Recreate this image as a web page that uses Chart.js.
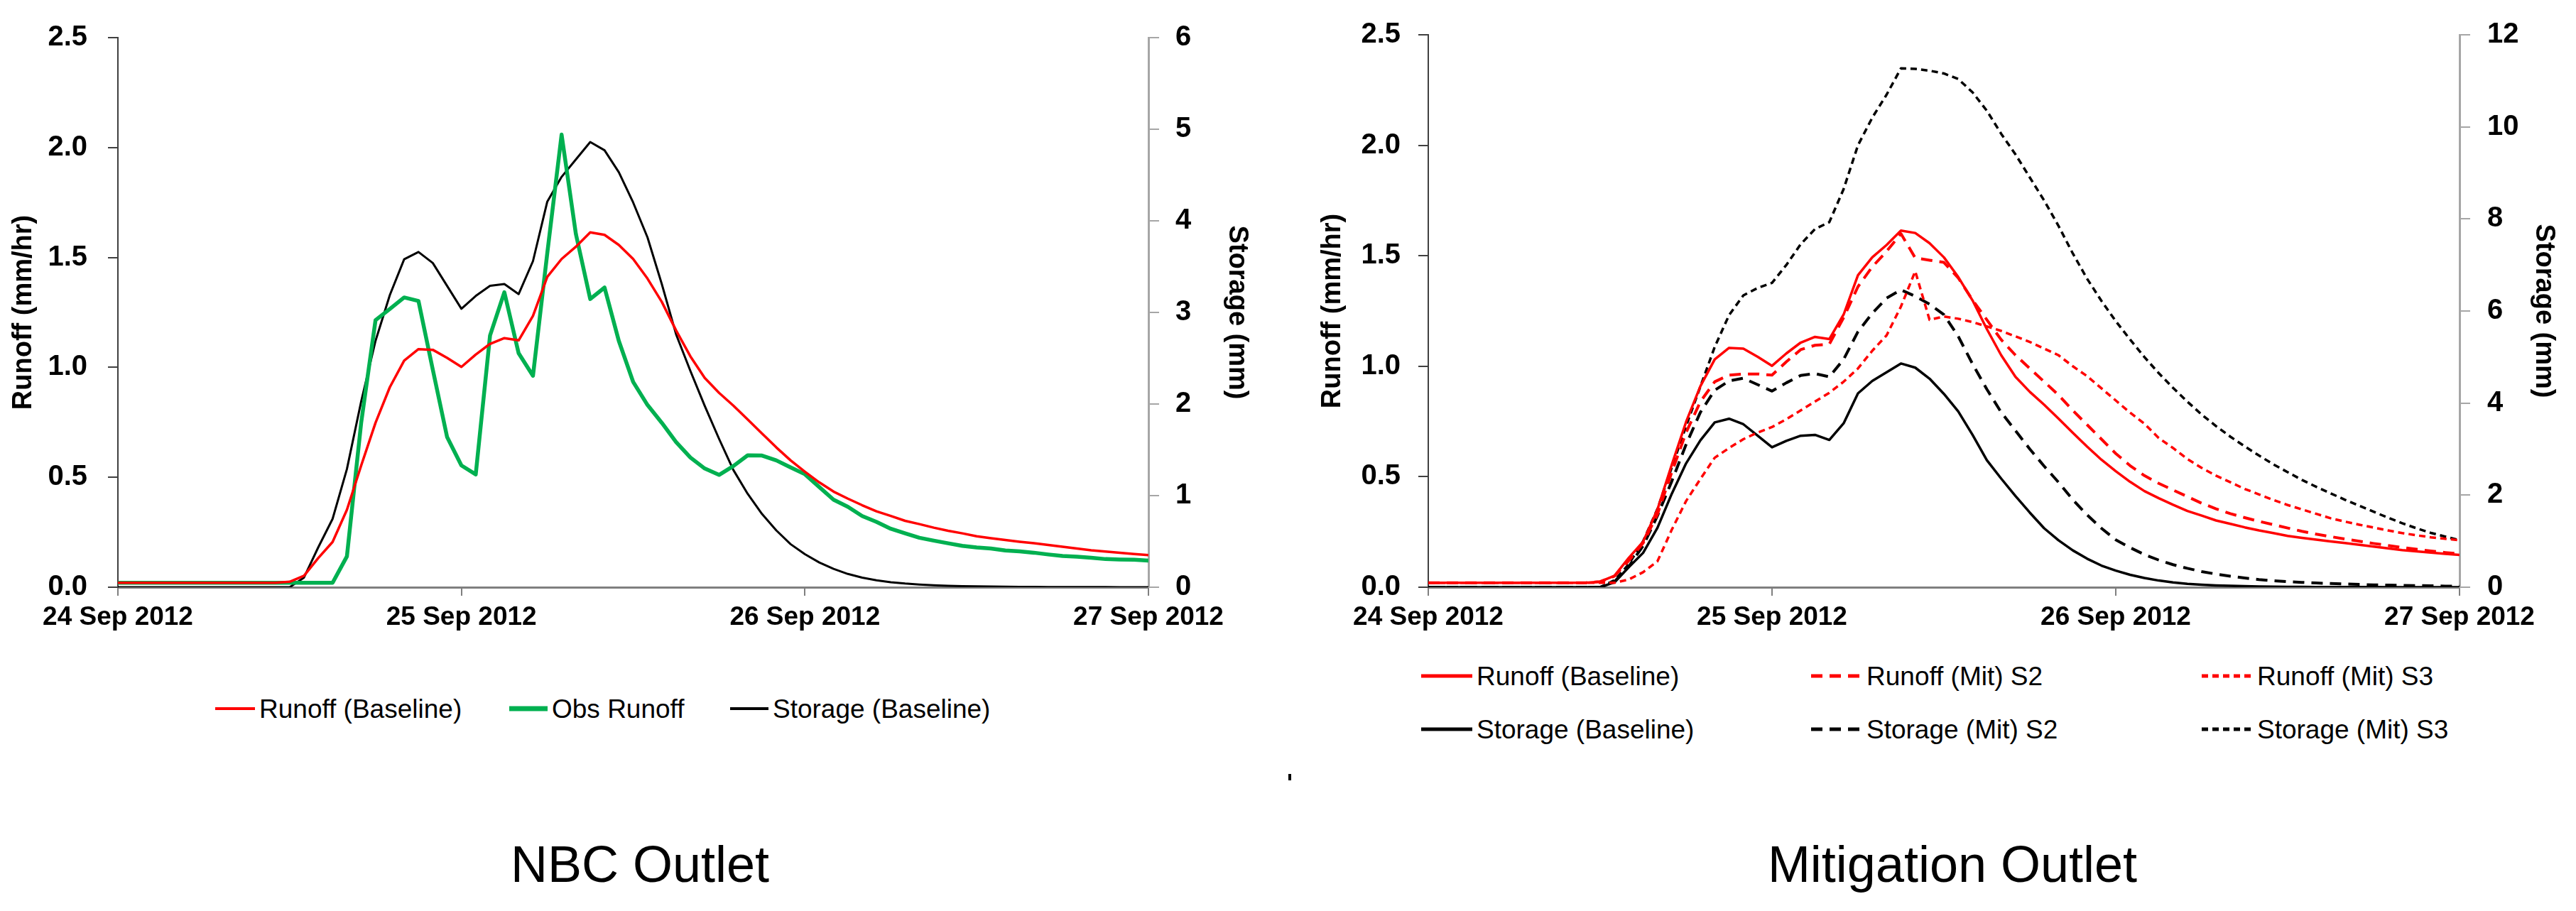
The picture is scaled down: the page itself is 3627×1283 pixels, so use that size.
<!DOCTYPE html>
<html>
<head>
<meta charset="utf-8">
<title>NBC Outlet / Mitigation Outlet</title>
<script src="https://cdn.jsdelivr.net/npm/chart.js@4.4.1/dist/chart.umd.min.js"></script>
<style>
  html, body { margin: 0; padding: 0; background: #fff; }
  #page {
    position: relative; width: 3627px; height: 1283px; overflow: hidden;
    background: #fff; font-family: 'Liberation Sans', Arial, sans-serif; color: #000;
  }
  #page canvas { position: absolute; top: 0; }
  #nbc-chart { left: 0; }
  #mit-chart { left: 1810px; }
  .legend-item {
    position: absolute; display: flex; align-items: center; height: 40px;
    font-size: 37px; line-height: 1; white-space: nowrap;
  }
  .legend-item svg { display: block; margin-right: 6px; }
  .panel-title {
    position: absolute; top: 1181px; font-size: 72px; line-height: 72px;
    white-space: nowrap; transform: translateX(-50%);
  }
  #stray-mark { position: absolute; left: 1814px; top: 1090px; width: 4px; height: 9px; background: #000; }
</style>
</head>
<body>
<div id="page">
  <canvas id="nbc-chart" width="1800" height="930"></canvas>
  <canvas id="mit-chart" width="1817" height="930"></canvas>
  <div class="panel-title" style="left:901px">NBC Outlet</div>
  <div class="panel-title" style="left:2749px">Mitigation Outlet</div>
  <div id="stray-mark"></div>
</div>

<script>
/* ─── Data (hourly, 24 Sep 2012 00:00 → 27 Sep 2012 00:00) ─────────────────── */

const HOURS = [
   0,  1,  2,  3,  4,  5,  6,  7,  8,  9, 10, 11, 12, 13, 14, 15, 16, 17, 18, 19,
  20, 21, 22, 23, 24, 25, 26, 27, 28, 29, 30, 31, 32, 33, 34, 35, 36, 37, 38, 39,
  40, 41, 42, 43, 44, 45, 46, 47, 48, 49, 50, 51, 52, 53, 54, 55, 56, 57, 58, 59,
  60, 61, 62, 63, 64, 65, 66, 67, 68, 69, 70, 71, 72,
];

const DATE_TICKS        = ['24 Sep 2012', '25 Sep 2012', '26 Sep 2012', '27 Sep 2012'];
const RUNOFF_TICKS      = [0, 0.5, 1.0, 1.5, 2.0, 2.5];
const NBC_STORAGE_TICKS = [0, 1, 2, 3, 4, 5, 6];
const MIT_STORAGE_TICKS = [0, 2, 4, 6, 8, 10, 12];

// Runoff (mm/hr)
const runoffBaseline = [
  0.02, 0.02, 0.02, 0.02, 0.02, 0.02, 0.02, 0.02, 0.02, 0.02, 0.02, 0.02, 0.025, 0.052, 0.133, 0.206,
  0.352, 0.554, 0.748, 0.91, 1.031, 1.083, 1.08, 1.043, 1.002, 1.058, 1.107, 1.133, 1.123, 1.234,
  1.412, 1.493, 1.549, 1.614, 1.603, 1.557, 1.493, 1.404, 1.298, 1.168, 1.05, 0.952, 0.884, 0.826,
  0.763, 0.699, 0.636, 0.577, 0.525, 0.477, 0.435, 0.403, 0.373, 0.345, 0.324, 0.302, 0.287, 0.271,
  0.257, 0.245, 0.232, 0.223, 0.215, 0.207, 0.2, 0.192, 0.184, 0.176, 0.168, 0.162, 0.157, 0.151, 0.146,
];

const obsRunoff = [
  0.02, 0.02, 0.02, 0.02, 0.02, 0.02, 0.02, 0.02, 0.02, 0.02, 0.02, 0.02, 0.02, 0.02, 0.02, 0.02,
  0.14, 0.75, 1.215, 1.266, 1.318, 1.302, 0.99, 0.683, 0.554, 0.513, 1.145, 1.342, 1.064, 0.962,
  1.52, 2.059, 1.606, 1.311, 1.363, 1.12, 0.934, 0.829, 0.748, 0.66, 0.59, 0.54, 0.511, 0.551,
  0.6, 0.599, 0.577, 0.545, 0.514, 0.456, 0.398, 0.366, 0.324, 0.297, 0.266, 0.245, 0.225, 0.212,
  0.2, 0.188, 0.181, 0.176, 0.167, 0.163, 0.157, 0.149, 0.142, 0.139, 0.134, 0.128, 0.126, 0.125, 0.121,
];

const runoffMitS2 = [
  0.02, 0.02, 0.02, 0.02, 0.02, 0.02, 0.02, 0.02, 0.02, 0.02, 0.02, 0.02, 0.025, 0.05, 0.12, 0.2,
  0.33, 0.52, 0.7, 0.84, 0.93, 0.96, 0.965, 0.965, 0.96, 1.02, 1.075, 1.095, 1.1, 1.22,
  1.36, 1.45, 1.52, 1.6, 1.49, 1.48, 1.47, 1.4, 1.3, 1.21, 1.12, 1.05, 0.99, 0.93,
  0.87, 0.8, 0.735, 0.67, 0.605, 0.55, 0.505, 0.47, 0.44, 0.41, 0.38, 0.355, 0.333, 0.315,
  0.298, 0.283, 0.268, 0.253, 0.24, 0.229, 0.218, 0.208, 0.198, 0.189, 0.18, 0.172, 0.164, 0.157, 0.151,
];

const runoffMitS3 = [
  0.02, 0.02, 0.02, 0.02, 0.02, 0.02, 0.02, 0.02, 0.02, 0.02, 0.02, 0.02, 0.02, 0.02, 0.035, 0.068,
  0.117, 0.26, 0.39, 0.49, 0.586, 0.63, 0.67, 0.7, 0.725, 0.76, 0.8, 0.84, 0.88, 0.93,
  0.99, 1.07, 1.14, 1.27, 1.43, 1.21, 1.225, 1.215, 1.2, 1.18, 1.16, 1.135, 1.11, 1.08,
  1.05, 1.0, 0.955, 0.9, 0.845, 0.79, 0.74, 0.675, 0.63, 0.58, 0.54, 0.505, 0.475, 0.445,
  0.42, 0.395, 0.372, 0.352, 0.332, 0.312, 0.297, 0.283, 0.27, 0.257, 0.245, 0.235, 0.226, 0.219, 0.213,
];

// Storage (mm)
const storageBaseline = [
  0, 0, 0, 0, 0, 0, 0, 0, 0, 0, 0, 0, 0, 0.105, 0.436, 0.746,
  1.29, 2.03, 2.69, 3.19, 3.58, 3.66, 3.54, 3.29, 3.04, 3.18, 3.29, 3.31, 3.2, 3.56,
  4.21, 4.48, 4.67, 4.86, 4.77, 4.53, 4.2, 3.82, 3.31, 2.76, 2.36, 1.98, 1.62, 1.28,
  1.02, 0.8, 0.62, 0.47, 0.36, 0.27, 0.2, 0.145, 0.105, 0.075, 0.055, 0.04, 0.03, 0.022,
  0.016, 0.012, 0.009, 0.007, 0.005, 0.004, 0.003, 0.002, 0.002, 0.001, 0.001, 0.001, 0, 0, 0,
];

const storageMitS2 = [
  0, 0, 0, 0, 0, 0, 0, 0, 0, 0, 0, 0, 0, 0.12, 0.45, 0.9,
  1.55, 2.3, 3.1, 3.8, 4.28, 4.48, 4.54, 4.4, 4.26, 4.44, 4.6, 4.64, 4.57, 4.95,
  5.55, 5.95, 6.28, 6.46, 6.32, 6.15, 5.92, 5.45, 4.85, 4.3, 3.8, 3.4, 3.0, 2.63,
  2.28, 1.9, 1.57, 1.28, 1.03, 0.86, 0.71, 0.59, 0.49, 0.41, 0.34, 0.285, 0.24, 0.2,
  0.165, 0.14, 0.12, 0.105, 0.092, 0.08, 0.07, 0.06, 0.05, 0.045, 0.04, 0.035, 0.03, 0.025, 0.02,
];

const storageMitS3 = [
  0, 0, 0, 0, 0, 0, 0, 0, 0, 0, 0, 0, 0, 0.15, 0.5, 1.0,
  1.7, 2.6, 3.5, 4.36, 5.22, 5.91, 6.34, 6.5, 6.61, 7.0, 7.45, 7.78, 7.93, 8.65,
  9.6, 10.2, 10.7, 11.27, 11.26, 11.22, 11.16, 11.04, 10.75, 10.35, 9.85, 9.4, 8.9, 8.4,
  7.85, 7.25, 6.7, 6.22, 5.78, 5.38, 5.0, 4.65, 4.33, 4.03, 3.75, 3.5, 3.27, 3.06,
  2.86, 2.67, 2.5, 2.33, 2.18, 2.04, 1.9, 1.77, 1.64, 1.51, 1.39, 1.28, 1.18, 1.1, 1.02,
];

/* ─── Styles ────────────────────────────────────────────────────────────────── */

const FONT_FAMILY = "'Liberation Sans', Arial, sans-serif";
const Y_TICK_FONT = { family: FONT_FAMILY, size: 40, weight: 'bold' };
const X_TICK_FONT = { family: FONT_FAMILY, size: 37, weight: 'bold' };
const TITLE_FONT  = { family: FONT_FAMILY, size: 38, weight: 'bold' };

const RED   = '#ff0000';
const GREEN = '#00b050';
const BLACK = '#000000';
const DARK_AXIS  = '#404040';
const LIGHT_AXIS = '#a6a6a6';
const X_AXIS     = '#7f7f7f';

const DASH_LONG  = [16, 10];
const DASH_SHORT = [9, 6];

/* ─── Helpers ───────────────────────────────────────────────────────────────── */

function series(label, values, color, width, axis, dash = []) {
  return {
    label,
    data: HOURS.map((h, i) => ({ x: h, y: values[i] })),
    borderColor: color,
    backgroundColor: color,
    borderWidth: width,
    borderDash: dash,
    borderJoinStyle: 'round',
    borderCapStyle: dash.length ? 'butt' : 'round',
    pointRadius: 0,
    tension: 0,
    fill: false,
    yAxisID: axis,
  };
}

function fixedTicks(values) {
  return scale => { scale.ticks = values.map(v => ({ value: v })); };
}

function xScale(height) {
  return {
    type: 'linear',
    min: HOURS[0],
    max: HOURS[HOURS.length - 1],
    afterBuildTicks: fixedTicks(DATE_TICKS.map((_, i) => i * 24)),
    afterFit: s => { s.height = height; },
    ticks: {
      font: X_TICK_FONT, color: BLACK, padding: 9,
      maxRotation: 0, autoSkip: false,
      callback: v => DATE_TICKS[Math.round(v / 24)],
    },
    grid:   { drawOnChartArea: false, drawTicks: true, tickLength: 12, color: X_AXIS, lineWidth: 2 },
    border: { display: true, color: X_AXIS, width: 3 },
  };
}

function runoffScale(width, tickPad, titlePad) {
  return {
    type: 'linear', position: 'left',
    min: 0, max: 2.5,
    afterBuildTicks: fixedTicks(RUNOFF_TICKS),
    afterFit: s => { s.width = width; },
    ticks:  { font: Y_TICK_FONT, color: BLACK, padding: tickPad, callback: v => v.toFixed(1) },
    grid:   { drawOnChartArea: false, drawTicks: true, tickLength: 14, color: DARK_AXIS, lineWidth: 2 },
    border: { display: true, color: DARK_AXIS, width: 2 },
    title:  { display: true, text: 'Runoff (mm/hr)', font: TITLE_FONT, color: BLACK, padding: { top: titlePad, bottom: 0 } },
  };
}

function storageScale(maxVal, tickValues, width, tickPad, titlePad) {
  return {
    type: 'linear', position: 'right',
    min: 0, max: maxVal,
    afterBuildTicks: fixedTicks(tickValues),
    afterFit: s => { s.width = width; },
    ticks:  { font: Y_TICK_FONT, color: BLACK, padding: tickPad, callback: v => String(v) },
    grid:   { drawOnChartArea: false, drawTicks: true, tickLength: 15, color: LIGHT_AXIS, lineWidth: 2 },
    border: { display: true, color: LIGHT_AXIS, width: 3 },
    title:  { display: true, text: 'Storage (mm)', font: TITLE_FONT, color: BLACK, padding: { top: titlePad, bottom: 0 } },
  };
}

function makeChart(id, datasets, scales, topPad) {
  return new Chart(document.getElementById(id).getContext('2d'), {
    type: 'line',
    data: { datasets },
    options: {
      responsive: false,
      animation: false,
      devicePixelRatio: 1,
      layout: { padding: { top: topPad, left: 0, right: 0, bottom: 0 } },
      plugins: { legend: { display: false }, tooltip: { enabled: false } },
      scales,
    },
  });
}

/* ─── Legends (HTML, built from the datasets) ───────────────────────────────── */

function addLegendItem(ds, left, centerY, lineLen, lineWidth) {
  const item = document.createElement('div');
  item.className = 'legend-item';
  item.style.left = left + 'px';
  item.style.top  = (centerY - 20) + 'px';

  const dash = ds.borderDash.length ? ` stroke-dasharray="${ds.borderDash.join(' ')}"` : '';
  item.innerHTML =
    `<svg width="${lineLen}" height="20"><line x1="0" y1="10" x2="${lineLen}" y2="10" ` +
    `stroke="${ds.borderColor}" stroke-width="${lineWidth}"${dash}/></svg>` +
    `<span>${ds.label}</span>`;
  document.getElementById('page').appendChild(item);
}

/* ─── NBC Outlet ────────────────────────────────────────────────────────────── */

const nbcSets = [
  series('Runoff (Baseline)',  runoffBaseline,  RED,   3.5, 'y'),
  series('Obs Runoff',         obsRunoff,       GREEN, 5.5, 'y'),
  series('Storage (Baseline)', storageBaseline, BLACK, 3,   'y1'),
];

makeChart('nbc-chart', nbcSets, {
  x:  xScale(103),
  y:  runoffScale(166, 29, 11),
  y1: storageScale(6, NBC_STORAGE_TICKS, 183, 23, 36),
}, 39);

addLegendItem(nbcSets[0], 303,  998, 56, 4);
addLegendItem(nbcSets[1], 717,  998, 54, 7);
addLegendItem(nbcSets[2], 1028, 998, 54, 4);

/* ─── Mitigation Outlet ─────────────────────────────────────────────────────── */

const mitSets = [
  series('Runoff (Baseline)',  runoffBaseline,  RED,   3.5, 'y'),
  series('Runoff (Mit) S2',    runoffMitS2,     RED,   4,   'y', DASH_LONG),
  series('Runoff (Mit) S3',    runoffMitS3,     RED,   3.5, 'y', DASH_SHORT),
  series('Storage (Baseline)', storageBaseline, BLACK, 3.5, 'y1'),
  series('Storage (Mit) S2',   storageMitS2,    BLACK, 4,   'y1', DASH_LONG),
  series('Storage (Mit) S3',   storageMitS3,    BLACK, 3.5, 'y1', DASH_SHORT),
];

makeChart('mit-chart', mitSets, {
  x:  xScale(103),
  y:  runoffScale(201, 25, 44),
  y1: storageScale(12, MIT_STORAGE_TICKS, 164, 24, 23),
}, 38);

const MIT_LEGEND_COLS = [2001, 2550, 3100];
const MIT_LEGEND_ROWS = [952, 1027];
mitSets.forEach((ds, i) => {
  addLegendItem(ds, MIT_LEGEND_COLS[i % 3], MIT_LEGEND_ROWS[Math.floor(i / 3)], 72, 5);
});
</script>
</body>
</html>
